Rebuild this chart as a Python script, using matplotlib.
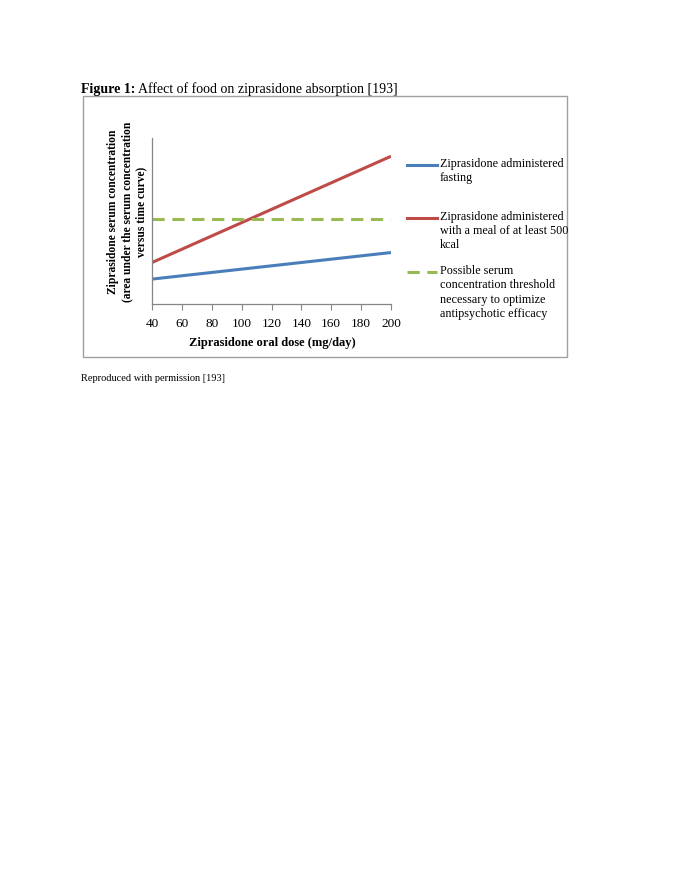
import matplotlib
matplotlib.use("Agg")
import matplotlib.pyplot as plt
from matplotlib.lines import Line2D
from matplotlib.patches import Rectangle

# data (arbitrary AUC units, y axis unlabeled)
doses = [40, 200]
fasting = [15, 31]
fed = [25, 89]
threshold = [51, 51]
xticks = [40, 60, 80, 100, 120, 140, 160, 180, 200]
labels = ["Ziprasidone administered\nfasting",
          "Ziprasidone administered\nwith a meal of at least 500\nkcal",
          "Possible serum\nconcentration threshold\nnecessary to optimize\nantipsychotic efficacy"]
colors = ["#4a7ebb", "#be4b48", "#98b954"]

W, H = 685, 886
plt.rcParams['font.family'] = ['Liberation Serif', 'DejaVu Serif']
fig = plt.figure(figsize=(W/100, H/100), dpi=100)

def fx(px): return px / W
def fy(py): return 1 - py / H

# border box
fig.patches.append(Rectangle((fx(83), fy(357)), fx(567) - fx(83), fy(96) - fy(357),
                             transform=fig.transFigure, fill=False,
                             edgecolor="#a0a0a0", linewidth=1.0))

ax = fig.add_axes([fx(152), fy(304), fx(391) - fx(152), fy(138) - fy(304)])
ax.plot(doses, fasting, color=colors[0], lw=2.2, solid_capstyle='butt')
ax.plot(doses, fed, color=colors[1], lw=2.2, solid_capstyle='butt')
ax.plot(doses, threshold, color=colors[2], lw=2.2, linestyle=(0, (4, 2.5)))
ax.set_xlim(40, 200)
ax.set_ylim(0, 100)
ax.set_xticks(xticks)
ax.set_xticklabels([str(t) for t in xticks], fontsize=9.5)
ax.set_yticks([])
for s in ["top", "right"]:
    ax.spines[s].set_visible(False)
for s in ["left", "bottom"]:
    ax.spines[s].set_color("#868686")
    ax.spines[s].set_linewidth(0.9)
ax.tick_params(axis='x', direction='out', length=4, color="#868686", pad=6)
ax.patch.set_alpha(0)

fig.text(fx(272), fy(343), "Ziprasidone oral dose (mg/day)", ha='center', va='center',
         fontsize=9, fontweight='bold')
fig.text(fx(127), fy(212), "Ziprasidone serum concentration\n(area under the serum concentration\nversus time curve)",
         rotation=90, ha='center', va='center', fontsize=8.3, fontweight='bold',
         linespacing=1.25)

# legend
ys = [165, 218, 272]
styles = ['-', '-', (0, (4, 2.5))]
for y, c, st, lab in zip(ys, colors, styles, labels):
    fig.lines.append(Line2D([fx(407), fx(437)], [fy(y), fy(y)], transform=fig.transFigure,
                            color=c, lw=2.2, linestyle=st))
    fig.text(fx(440), fy(y - 7), lab, ha='left', va='top', fontsize=8.7, linespacing=1.25)

# title: bold prefix + regular text
t1 = fig.text(fx(81), fy(93), "Figure 1:", ha='left', va='baseline', fontsize=10, fontweight='bold')
fig.canvas.draw()
bb = t1.get_window_extent()
fig.text(bb.x1 / W + fx(3), fy(93), "Affect of food on ziprasidone absorption [193]",
         ha='left', va='baseline', fontsize=10)
fig.text(fx(81), fy(381), "Reproduced with permission [193]", ha='left', va='baseline', fontsize=7.5)

fig.savefig("out.png", dpi=100)
